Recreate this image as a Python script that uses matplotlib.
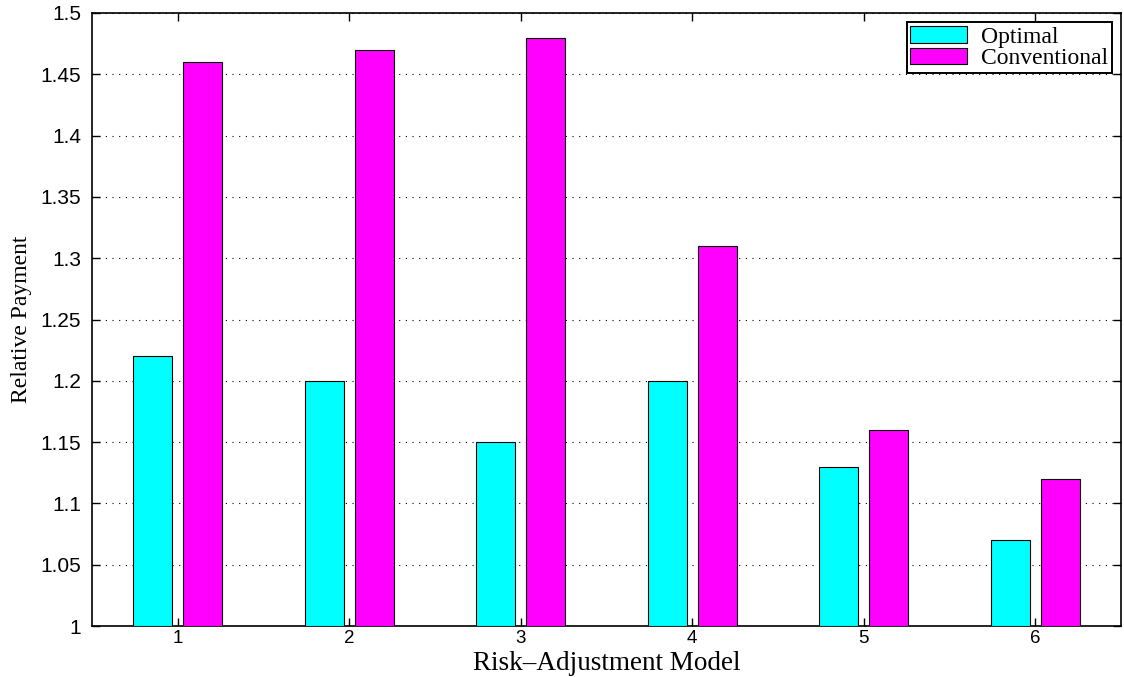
import matplotlib.pyplot as plt
import numpy as np

# Data
models = [1, 2, 3, 4, 5, 6]
optimal = [1.22, 1.20, 1.15, 1.20, 1.13, 1.07]
conventional = [1.46, 1.47, 1.48, 1.31, 1.16, 1.12]

W, H = 1124, 677
fig = plt.figure(figsize=(W / 100, H / 100), dpi=100)
ax = fig.add_axes([92 / W, 1 - 626 / H, (1121 - 92) / W, (626 - 13) / H])

x = np.array(models)
width = 0.228
ax.bar(x - 0.145, np.array(optimal) - 1, width, bottom=1, color='#00ffff',
       edgecolor='black', linewidth=0.8, label='Optimal', zorder=3)
ax.bar(x + 0.145, np.array(conventional) - 1, width, bottom=1, color='#ff00ff',
       edgecolor='black', linewidth=0.8, label='Conventional', zorder=3)

ax.set_xlim(0.5, 6.5)
ax.set_ylim(1, 1.5)
ax.set_xticks(models)
ax.set_xticklabels([str(m) for m in models])
yt = np.arange(1, 1.5001, 0.05)
ax.set_yticks(yt)
ax.set_yticklabels([f"{v:.2f}".rstrip('0').rstrip('.') if v != 1 else '1' for v in yt])

ax.yaxis.grid(True, linestyle=(0, (1, 5)), color='black', linewidth=0.8, zorder=0)
ax.tick_params(direction='in', top=True, right=True, length=6, width=1)
ax.tick_params(axis='x', pad=3, labelsize=13.5)
ax.tick_params(axis='y', pad=8, labelsize=15)
for lab in ax.get_xticklabels() + ax.get_yticklabels():
    lab.set_family('Liberation Sans')
for s in ax.spines.values():
    s.set_linewidth(1.2)

# x label placed by hand so its baseline sits near the bottom edge
fig.text((92 + 1121) / 2 / W, 7 / H, 'Risk\u2013Adjustment Model', family='Liberation Serif',
         fontsize=19.5, ha='center', va='baseline')
ax.set_ylabel('Relative Payment', family='Liberation Serif', fontsize=17, labelpad=6)

leg = ax.legend(loc='upper right', prop={'family': 'Liberation Serif', 'size': 17},
                fancybox=False, edgecolor='black', framealpha=1,
                handlelength=2.4, handleheight=0.7, handletextpad=0.6,
                borderpad=0.15, labelspacing=0.0, borderaxespad=0.4)
leg.get_frame().set_linewidth(1.4)

plt.savefig('out.png', dpi=100)
